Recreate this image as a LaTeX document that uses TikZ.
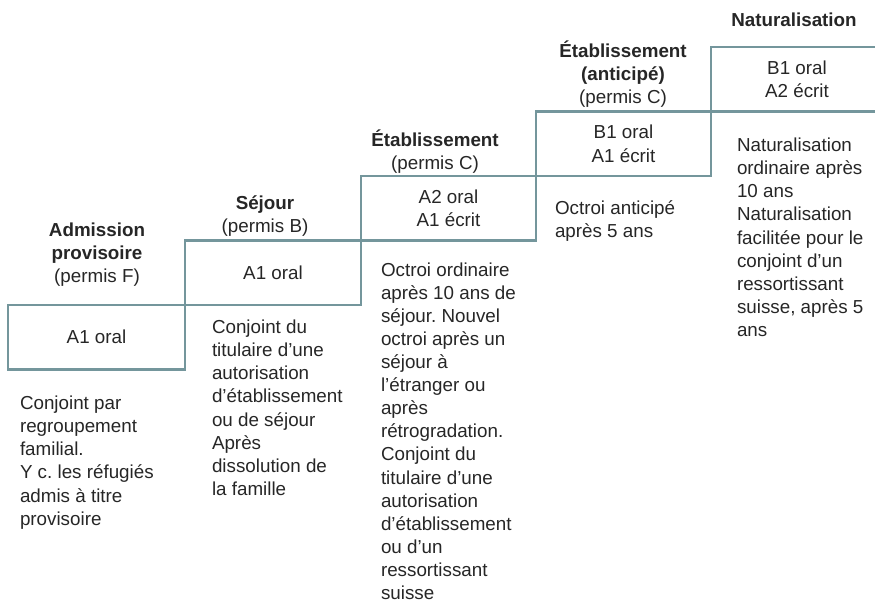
\documentclass[tikz,border=0pt]{standalone}
\usepackage{fontspec}
\setmainfont{Liberation Sans}
\frenchspacing
\definecolor{stairline}{HTML}{74969C}
\definecolor{txt}{HTML}{262626}
\begin{document}
\frenchspacing
\begin{tikzpicture}[x=1pt,y=-1pt,
  every node/.style={inner sep=0pt, outer sep=0pt, text=txt, font=\fontsize{18.8}{23.1}\selectfont},
  stairbox/.style={draw=stairline, line width=2.8pt, rectangle, align=center},
  stairline/.style={draw=stairline, line width=2.8pt},
  head/.style={anchor=north, align=center},
  desc/.style={anchor=north west, align=left},
]
\useasboundingbox (0,0) rectangle (875,603);

% level boxes
\node[stairbox, minimum width=177pt, minimum height=64.5pt] (box1) at (96.5,337.25) {A1 oral};
\node[stairbox, minimum width=176pt, minimum height=64.5pt] (box2) at (273,272.75) {A1 oral};
\node[stairbox, minimum width=175pt, minimum height=64.5pt] (box3) at (448.5,208.25) {A2 oral\\A1 écrit};
\node[stairbox, minimum width=175pt, minimum height=64.5pt] (box4) at (623.5,143.75) {B1 oral\\A1 écrit};
\node[align=center, minimum width=172pt, minimum height=64.5pt] (box5) at (797,79.25) {B1 oral\\A2 écrit};
\coordinate (edgeR) at (875,0);
\draw[stairline] (box5.north west -| edgeR) -- (box5.north west) -- (box5.south west) -- (box5.south west -| edgeR);

% headings
\node[head] (h1) at (97,220.5) {\strut\textbf{Admission}\\\textbf{provisoire}\\(permis F)};
\node[head] (h2) at (265,193.5) {\strut\textbf{Séjour}\\(permis B)};
\node[head] (h3) at (435,129.5) {\strut\textbf{Établissement}\\(permis C)};
\node[head] (h4) at (623,40.5) {\strut\textbf{Établissement}\\\textbf{(anticipé)}\\(permis C)};
\node[head] (h5) at (794,10.5) {\strut\textbf{Naturalisation}};

% descriptions
\node[desc] (d1) at (20,393.5) {\strut Conjoint par\\regroupement\\familial.\\Y c. les réfugiés\\admis à titre\\provisoire};
\node[desc] (d2) at (212,317.5) {\strut Conjoint du\\titulaire d’une\\autorisation\\d’établissement\\ou de séjour\\Après\\dissolution de\\la famille};
\node[desc] (d3) at (381,260) {\strut Octroi ordinaire\\après 10 ans de\\séjour. Nouvel\\octroi après un\\séjour à\\l’étranger ou\\après\\rétrogradation.\\Conjoint du\\titulaire d’une\\autorisation\\d’établissement\\ou d’un\\ressortissant\\suisse};
\node[desc] (d4) at (555,198.5) {\strut Octroi anticipé\\après 5 ans};
\node[desc] (d5) at (737,135.5) {\strut Naturalisation\\ordinaire après\\10 ans\\Naturalisation\\facilitée pour le\\conjoint d’un\\ressortissant\\suisse, après 5\\ans};
\end{tikzpicture}
\end{document}
